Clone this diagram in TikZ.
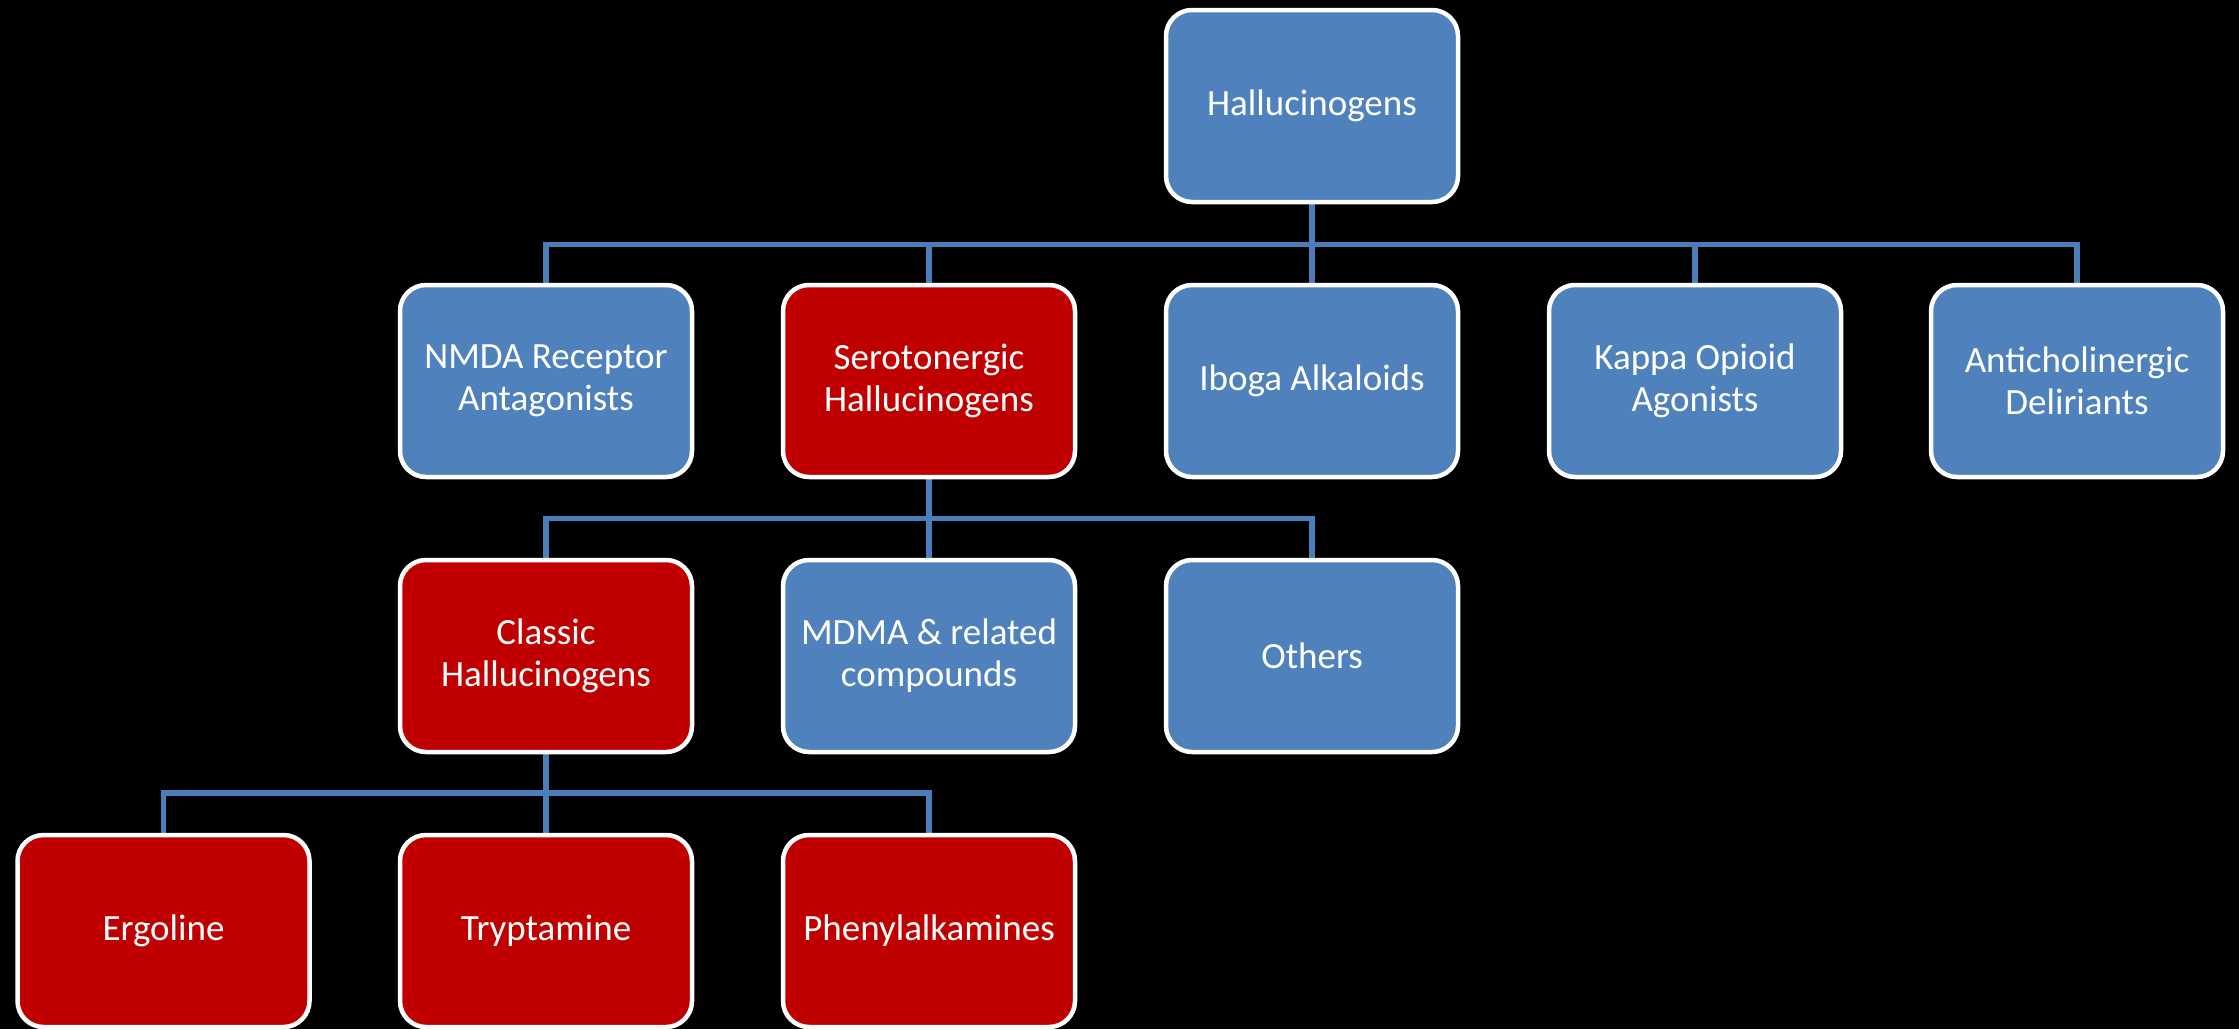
\documentclass[tikz,border=0pt]{standalone}
\usepackage{fontspec}
\setmainfont{Carlito}
\usetikzlibrary{backgrounds}
\definecolor{boxblue}{HTML}{4F81BD}
\definecolor{boxred}{HTML}{C00000}
\definecolor{linkblue}{HTML}{4A7EBB}
\tikzset{
  box/.style={draw=white, line width=2.25pt, rounded corners=13pt,
    minimum width=146pt, minimum height=96pt,
    align=center, text=white, inner sep=0pt,
    font=\fontsize{18.5pt}{21pt}\selectfont},
  bluebox/.style={box, fill=boxblue},
  redbox/.style={box, fill=boxred},
  link/.style={draw=linkblue, line width=2.75pt}
}
\begin{document}
\begin{tikzpicture}[x=0.5pt, y=-0.5pt]
  \useasboundingbox (0,0) rectangle (2239,1029);
  % level 0
  \node[bluebox] (root) at (1312,106) {Hallucinogens};
  % level 1
  \node[bluebox] (nmda) at (546,381) {NMDA Receptor\\Antagonists};
  \node[redbox]  (sero) at (929,381) {Serotonergic\\Hallucinogens};
  \node[bluebox] (iboga) at (1312,381) {Iboga Alkaloids};
  \node[bluebox] (kappa) at (1695,381) {Kappa Opioid\\Agonists};
  \node[bluebox] (anti) at (2077,381) {Anticholinergic\\Deliriants};
  % level 2
  \node[redbox]  (classic) at (546,656) {Classic\\Hallucinogens};
  \node[bluebox] (mdma) at (929,656) {MDMA \& related\\compounds};
  \node[bluebox] (others) at (1312,656) {Others};
  % level 3
  \node[redbox] (ergo) at (163.5,931) {Ergoline};
  \node[redbox] (trypt) at (546,931) {Tryptamine};
  \node[redbox] (phenyl) at (929,931) {Phenylalkamines};
  % bus heights between rows
  \coordinate (bus1) at (0,244.5);
  \coordinate (bus2) at (0,518.5);
  \coordinate (bus3) at (0,793);
  \begin{scope}[on background layer]
    \fill[black] (0,0) rectangle (2239,1029);
    \foreach \c in {nmda,sero,iboga,kappa,anti}
      \draw[link] (root.south) -- (root.south |- bus1) -| (\c.north);
    \foreach \c in {classic,mdma,others}
      \draw[link] (sero.south) -- (sero.south |- bus2) -| (\c.north);
    \foreach \c in {ergo,trypt,phenyl}
      \draw[link] (classic.south) -- (classic.south |- bus3) -| (\c.north);
  \end{scope}
\end{tikzpicture}
\end{document}
